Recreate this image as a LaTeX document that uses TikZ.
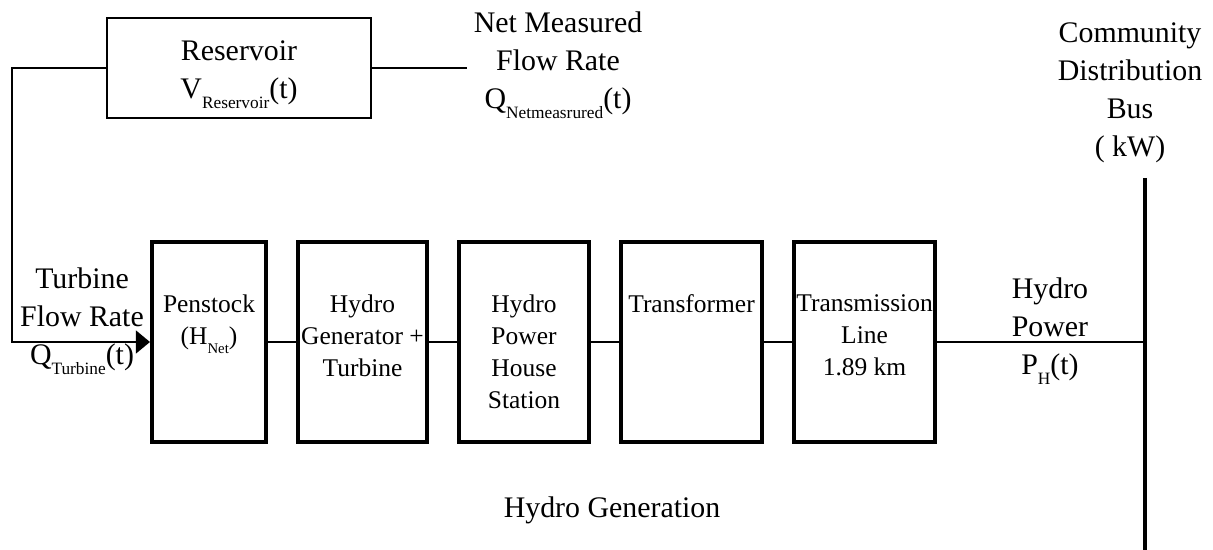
\documentclass[tikz,border=0pt]{standalone}
\usepackage{fontspec}
\setmainfont{Liberation Serif}
\usetikzlibrary{arrows.meta,positioning}
\newcommand{\lowsub}[1]{\raisebox{-0.75ex}{\scalebox{0.58}{#1}}}

\begin{document}
\begin{tikzpicture}[x=0.02cm,y=-0.02cm,>={Triangle[length=8pt,width=13pt]},
  line width=1pt,node distance=0.56cm,
  block node/.style={draw,line width=2.3pt,minimum height=4cm,inner sep=0pt},
  tank node/.style={draw,line width=1.3pt,minimum width=5.27cm,minimum height=2.01cm,align=center,font=\fontsize{17}{21.6}\selectfont},
  box text/.style={align=center,font=\fontsize{14.5}{18.2}\selectfont},
  label node/.style={align=center,font=\fontsize{17}{21.6}\selectfont}]

  \useasboundingbox (0,0) rectangle (1213,550);

  \node[tank node] (res) at (239,68) {\rule{0pt}{1.1em}Reservoir\\V\lowsub{Reservoir}(t)};
  \node[label node] (netq) at (558,65) {Net Measured\\Flow Rate\\Q\lowsub{Netmeasrured}(t)};

  \node[block node,minimum width=2.28cm] (pen) at (209,342) {};
  \node[block node,minimum width=2.58cm] (gen) [right=of pen] {};
  \node[block node,minimum width=2.6cm] (house) [right=of gen] {};
  \node[block node,minimum width=2.82cm] (trafo) [right=of house] {};
  \node[block node,minimum width=2.82cm] (tline) [right=of trafo] {};

  \node[box text] (pen-t) [below=0.96cm of pen.north] {Penstock\\(H\lowsub{Net})};
  \node[box text] (gen-t) [below=0.96cm of gen.north] {Hydro\\Generator +\\Turbine};
  \node[box text] (house-t) [below=0.96cm of house.north] {Hydro\\Power\\House\\Station};
  \node[box text] (trafo-t) [below=0.96cm of trafo.north] {Transformer};
  \node[box text] (tline-t) [below=0.96cm of tline.north] {Transmission\\Line\\1.89 km};

  \coordinate (bustop) at (1145,178);
  \coordinate (busbot) at (1145,550);
  \draw[line width=2.8pt] (bustop) -- (busbot);

  \node[label node] (turbq) at (82,321) {Turbine\\Flow Rate\\Q\lowsub{Turbine}(t)};
  \node[label node] (hpow) at (1050,331) {Hydro\\Power\\P\lowsub{H}(t)};
  \node[label node] (comm) at (1130,93) {Community\\Distribution\\Bus\\( kW)};
  \node[label node] (hgen) at (612,510) {Hydro Generation};

  % flow paths
  \draw[->] (res.west) -- ++(-94,0) |- (pen.west);
  \draw (res.east) -- (res.east -| netq.west);
  \path (pen) edge (gen)
        (gen) edge (house)
        (house) edge (trafo)
        (trafo) edge (tline);
  \draw (tline.east) -- (tline.east -| bustop);

\end{tikzpicture}
\end{document}
